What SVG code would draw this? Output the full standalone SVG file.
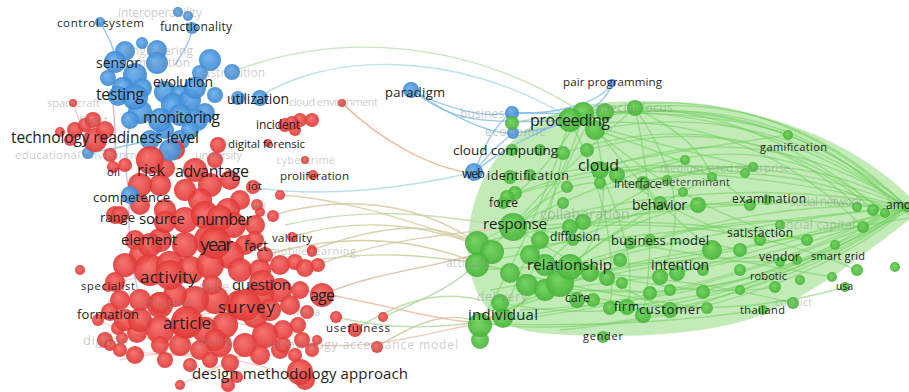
<svg xmlns="http://www.w3.org/2000/svg" width="909" height="392" viewBox="0 0 909 392">
<defs>
<radialGradient id="gR" fx="40%" fy="35%"><stop offset="0" stop-color="#f66a66"/><stop offset="1" stop-color="#e03936"/></radialGradient>
<radialGradient id="gB" fx="40%" fy="35%"><stop offset="0" stop-color="#6cb0ec"/><stop offset="1" stop-color="#3e8ad5"/></radialGradient>
<radialGradient id="gG" fx="40%" fy="35%"><stop offset="0" stop-color="#72d45e"/><stop offset="1" stop-color="#48b53a"/></radialGradient>
<style>
.r{fill:url(#gR);fill-opacity:.92}
.b{fill:url(#gB);fill-opacity:.92}
.g{fill:url(#gG);fill-opacity:.92}
.eg{fill:none;stroke:#72cf5e;stroke-opacity:.55;stroke-width:1.4}
.er{fill:none;stroke:#f2a39c;stroke-opacity:.6;stroke-width:1.2}
.ex{fill:none;stroke-width:1.4;stroke-opacity:.8}
.eb{fill:none;stroke:#84c0e6;stroke-width:1.4;stroke-opacity:.85}
text{font-family:"Open Sans","Liberation Sans",sans-serif;fill:#1e1e1e}
text.f{fill:#8a8a8a;fill-opacity:.45}
</style>
</defs>
<rect width="909" height="392" fill="#fff"/>
<g id="edges">
<path d="M468,245 C470,160 530,110 600,103 C700,93 830,118 909,196 L909,220 C850,265 800,305 740,322 C680,338 600,338 540,333 C495,328 468,300 468,245 Z" fill="#86d872" fill-opacity=".5"/>
<path class="eg" d="M583,113 Q760,70 907,207"/>
<path class="eg" d="M570,120 Q750,80 907,205"/>
<path class="eg" d="M635,108 Q790,90 907,207"/>
<path class="eg" d="M595,130 Q770,95 907,210"/>
<path class="eg" d="M563,153 Q740,95 885,213"/>
<path class="eg" d="M600,170 Q760,110 907,207"/>
<path class="eg" d="M617,175 Q780,120 873,210"/>
<path class="eg" d="M512,123 Q720,80 907,207"/>
<path class="eg" d="M587,150 Q760,105 857,207"/>
<path class="eg" d="M635,108 Q760,110 885,213"/>
<path class="eg" d="M583,113 Q720,110 788,135"/>
<path class="eg" d="M643,183 Q790,140 907,207"/>
<path class="eg" d="M507,197 Q720,130 907,207"/>
<path class="eg" d="M513,227 Q720,170 907,207"/>
<path class="eg" d="M477,243 Q720,190 907,207"/>
<path class="eg" d="M570,267 Q760,220 907,207"/>
<path class="eg" d="M560,283 Q760,250 907,207"/>
<path class="eg" d="M480,323 Q720,300 907,207"/>
<path class="eg" d="M503,318 Q740,290 885,213"/>
<path class="eg" d="M543,290 Q760,270 907,207"/>
<path class="eg" d="M610,308 Q800,290 907,207"/>
<path class="eg" d="M643,315 Q820,280 907,207"/>
<path class="eg" d="M490,250 Q700,230 873,210"/>
<path class="eg" d="M660,277 Q800,240 907,207"/>
<path class="eg" d="M527,283 Q740,320 907,207"/>
<path class="eg" d="M480,323 Q680,350 907,207"/>
<path class="eg" d="M500,303 Q700,340 885,213"/>
<path class="eg" d="M570,120 Q540,220 480,323"/>
<path class="eg" d="M583,113 Q560,200 513,227"/>
<path class="eg" d="M595,130 Q620,230 570,267"/>
<path class="eg" d="M635,108 Q660,220 643,315"/>
<path class="eg" d="M635,108 Q700,200 660,277"/>
<path class="eg" d="M583,113 Q650,200 712,250"/>
<path class="eg" d="M570,120 Q620,220 610,308"/>
<path class="eg" d="M595,130 Q720,170 750,205"/>
<path class="eg" d="M513,227 Q640,200 750,205"/>
<path class="eg" d="M570,267 Q660,230 740,250"/>
<path class="eg" d="M480,323 Q600,260 712,250"/>
<path class="eg" d="M513,227 Q600,280 670,310"/>
<path class="eg" d="M477,263 Q620,300 707,308"/>
<path class="eg" d="M563,153 Q540,260 527,283"/>
<path class="eg" d="M600,170 Q640,260 627,307"/>
<path class="eg" d="M617,175 Q700,230 760,240"/>
<path class="eg" d="M560,283 Q680,250 797,260"/>
<path class="eg" d="M570,267 Q700,300 775,287"/>
<path class="eg" d="M513,227 Q680,250 832,277"/>
<path class="eg" d="M480,323 Q620,330 763,310"/>
<path class="eg" d="M590,273 Q700,280 793,303"/>
<path class="eg" d="M477,243 Q600,180 685,160"/>
<path class="eg" d="M507,197 Q620,150 745,173"/>
<path class="eg" d="M513,227 Q560,180 600,183"/>
<path class="eg" d="M570,120 Q680,150 753,167"/>
<path class="eg" d="M635,108 Q700,140 712,177"/>
<path class="eg" d="M595,130 Q700,220 807,240"/>
<path class="eg" d="M560,283 Q700,200 863,227"/>
<path class="eg" d="M480,323 Q560,280 650,293"/>
<path class="eg" d="M477,263 Q560,250 660,203"/>
<path class="eg" d="M570,267 Q620,220 698,205"/>
<path class="eg" d="M583,113 Q540,180 503,203"/>
<path class="eg" d="M590,118 Q530,240 503,318"/>
<path class="eg" d="M600,170 Q760,170 907,207"/>
<path class="eg" d="M650,240 Q780,200 907,207"/>
<path class="eg" d="M700,292 Q820,260 907,207"/>
<path class="eg" d="M540,230 Q720,210 857,270"/>
<path class="eg" d="M527,283 Q700,330 845,287"/>
<path class="eg" d="M590,118 Q780,85 895,205"/>
<path class="eg" d="M605,112 Q800,100 909,215"/>
<path class="eg" d="M575,125 Q740,105 863,227"/>
<path class="eg" d="M540,240 Q720,180 909,212"/>
<path class="eg" d="M490,290 Q720,250 909,218"/>
<path class="eg" d="M520,310 Q760,300 909,210"/>
<path class="eg" d="M560,330 Q780,310 900,215"/>
<path class="eg" d="M600,190 Q760,150 880,205"/>
<path class="eg" d="M480,270 Q650,260 780,262"/>
<path class="eg" d="M500,230 Q650,210 807,240"/>
<path class="eg" d="M520,180 Q680,150 788,135"/>
<path class="eg" d="M490,250 Q560,170 635,108"/>
<path class="eg" d="M503,318 Q620,220 712,177"/>
<path class="eg" d="M545,265 Q650,160 753,167"/>
<path class="ex" stroke="#d9c39b" d="M273,215 C360,190 430,210 477,243"/>
<path class="ex" stroke="#d0c48f" d="M265,255 C350,230 420,240 477,263"/>
<path class="ex" stroke="#c9c890" d="M292,237 C360,215 430,225 490,250"/>
<path class="ex" stroke="#c2cf95" d="M305,262 C370,250 420,255 477,263"/>
<path class="ex" stroke="#d9b89a" d="M322,295 C380,270 430,270 490,250"/>
<path class="ex" stroke="#b9d49b" d="M355,330 C400,300 440,290 480,300"/>
<path class="ex" stroke="#c8c79a" d="M377,347 C420,320 450,310 480,323"/>
<path class="ex" stroke="#a9d69a" d="M383,317 C420,300 450,290 477,263"/>
<path class="ex" stroke="#d6c7a3" d="M318,265 C380,240 440,235 513,227"/>
<path class="ex" stroke="#e6b9a0" d="M300,290 C370,300 430,320 480,323"/>
<path class="ex" stroke="#d8c6a0" d="M280,195 C360,200 430,230 477,243"/>
<path class="ex" stroke="#b4d59b" d="M336,317 C390,330 440,330 503,318"/>
<path class="ex" stroke="#cfc9a0" d="M312,250 C380,225 430,220 477,243"/>
<path class="ex" stroke="#efbfa8" d="M310,345 C380,350 440,330 480,323"/>
<path class="ex" stroke="#bcd7a0" d="M285,225 C370,205 440,215 513,227"/>
<path class="ex" stroke="#a6d8e6" d="M253,187 C330,200 420,185 475,172"/>
<path class="ex" stroke="#e9a27f" d="M342,103 C380,140 430,168 472,173"/>
<path class="ex" stroke="#a9dcea" d="M258,98 C320,55 450,45 570,118"/>
<path class="ex" stroke="#b6e3a8" d="M232,72 C340,30 470,40 583,113"/>
<path class="eb" d="M415,92 C450,110 485,118 512,113"/>
<path class="eb" d="M415,92 C450,115 490,135 513,133"/>
<path class="eb" d="M415,92 C450,120 480,125 570,120"/>
<path class="eb" d="M475,172 C485,140 500,120 512,113"/>
<path class="eb" d="M475,172 C490,150 505,140 513,133"/>
<path class="eb" d="M612,83 C600,105 550,115 512,113"/>
<path class="eb" d="M612,83 C605,110 560,130 513,133"/>
<path class="eb" d="M475,172 C500,150 540,130 570,120"/>
<path class="eb" d="M512,113 C540,112 560,115 583,113"/>
<path class="eb" d="M100,22 C110,40 115,50 115,62"/>
<path class="eb" d="M192,28 C190,45 180,55 175,65"/>
<path class="ex" stroke="#b9b3e0" d="M135,97 Q120,160 130,195"/>
<path class="ex" stroke="#b9b3e0" d="M160,120 Q150,170 130,195"/>
<path class="eb" d="M88,153 Q110,150 150,140"/>
<path class="ex" stroke="#c9a0c8" d="M113,104 Q118,150 112,170"/>
<path class="ex" stroke="#b9b3e0" d="M130,195 Q125,240 140,300"/>
<path class="er" d="M95,315 Q150,300 200,300"/>
<path class="er" d="M108,287 Q150,270 190,270"/>
<path class="er" d="M98,320 Q140,340 200,350"/>
<path class="er" d="M110,312 Q160,330 240,305"/>
<path class="er" d="M120,350 Q200,360 260,355"/>
<path class="er" d="M73,103 Q85,140 95,140"/>
<path class="er" d="M98,320 Q120,280 160,240"/>
<path class="er" d="M120,360 Q200,340 300,380"/>
<path class="er" d="M180,385 Q230,360 300,330"/>
<path class="er" d="M108,287 Q200,320 280,330"/>
</g>
<g id="blue-bubbles">
<circle class="b" cx="178" cy="12" r="5"/><circle class="b" cx="188" cy="16" r="5"/>
<circle class="b" cx="142" cy="43" r="6"/><circle class="b" cx="125" cy="51" r="10"/><circle class="b" cx="157" cy="50" r="10"/>
<circle class="b" cx="157" cy="63" r="11"/><circle class="b" cx="210" cy="60" r="11"/><circle class="b" cx="200" cy="73" r="8"/>
<circle class="b" cx="232" cy="72" r="8"/><circle class="b" cx="135" cy="75" r="12"/><circle class="b" cx="123" cy="88" r="11"/>
<circle class="b" cx="142" cy="88" r="10"/><circle class="b" cx="118" cy="96" r="10"/><circle class="b" cx="165" cy="92" r="11"/>
<circle class="b" cx="180" cy="95" r="10"/><circle class="b" cx="173" cy="105" r="12"/><circle class="b" cx="190" cy="100" r="11"/>
<circle class="b" cx="205" cy="113" r="10"/><circle class="b" cx="197" cy="120" r="11"/><circle class="b" cx="140" cy="112" r="12"/>
<circle class="b" cx="180" cy="115" r="11"/><circle class="b" cx="165" cy="130" r="9"/><circle class="b" cx="150" cy="140" r="10"/>
<circle class="b" cx="180" cy="140" r="10"/><circle class="b" cx="190" cy="130" r="9"/><circle class="b" cx="130" cy="120" r="9"/>
<circle class="b" cx="238" cy="98" r="7"/><circle class="b" cx="88" cy="153" r="6"/><circle class="b" cx="512" cy="113" r="7"/>
<circle class="b" cx="513" cy="133" r="6"/><circle class="b" cx="108" cy="78" r="8"/><circle class="b" cx="215" cy="95" r="8"/>
</g>
<g id="red-bubbles">
<circle class="r" cx="75" cy="130" r="8"/><circle class="r" cx="70" cy="140" r="6"/><circle class="r" cx="95" cy="140" r="12"/>
<circle class="r" cx="105" cy="130" r="9"/><circle class="r" cx="110" cy="155" r="7"/><circle class="r" cx="125" cy="165" r="7"/>
<circle class="r" cx="165" cy="168" r="10"/><circle class="r" cx="175" cy="150" r="10"/><circle class="r" cx="215" cy="160" r="8"/>
<circle class="r" cx="218" cy="145" r="8"/><circle class="r" cx="210" cy="185" r="12"/><circle class="r" cx="230" cy="180" r="10"/>
<circle class="r" cx="240" cy="200" r="10"/><circle class="r" cx="228" cy="210" r="12"/><circle class="r" cx="200" cy="200" r="12"/>
<circle class="r" cx="185" cy="190" r="11"/><circle class="r" cx="160" cy="185" r="11"/><circle class="r" cx="140" cy="185" r="12"/>
<circle class="r" cx="140" cy="205" r="10"/><circle class="r" cx="115" cy="215" r="9"/><circle class="r" cx="165" cy="210" r="11"/>
<circle class="r" cx="185" cy="220" r="13"/><circle class="r" cx="205" cy="215" r="14"/><circle class="r" cx="233" cy="225" r="13"/>
<circle class="r" cx="255" cy="225" r="10"/><circle class="r" cx="265" cy="255" r="8"/><circle class="r" cx="245" cy="245" r="10"/>
<circle class="r" cx="230" cy="255" r="14"/><circle class="r" cx="210" cy="240" r="16"/><circle class="r" cx="185" cy="245" r="13"/>
<circle class="r" cx="160" cy="240" r="12"/><circle class="r" cx="135" cy="240" r="10"/><circle class="r" cx="140" cy="255" r="11"/>
<circle class="r" cx="125" cy="265" r="12"/><circle class="r" cx="115" cy="282" r="10"/><circle class="r" cx="150" cy="270" r="16"/>
<circle class="r" cx="170" cy="265" r="14"/><circle class="r" cx="190" cy="270" r="14"/><circle class="r" cx="210" cy="265" r="14"/>
<circle class="r" cx="240" cy="270" r="12"/><circle class="r" cx="260" cy="270" r="11"/><circle class="r" cx="280" cy="265" r="10"/>
<circle class="r" cx="295" cy="262" r="8"/><circle class="r" cx="305" cy="268" r="9"/><circle class="r" cx="318" cy="265" r="7"/>
<circle class="r" cx="280" cy="290" r="12"/><circle class="r" cx="260" cy="295" r="14"/><circle class="r" cx="240" cy="305" r="15"/>
<circle class="r" cx="215" cy="300" r="14"/><circle class="r" cx="195" cy="300" r="14"/><circle class="r" cx="175" cy="295" r="12"/>
<circle class="r" cx="160" cy="305" r="13"/><circle class="r" cx="140" cy="300" r="11"/><circle class="r" cx="120" cy="300" r="10"/>
<circle class="r" cx="98" cy="320" r="6"/><circle class="r" cx="118" cy="328" r="7"/><circle class="r" cx="137" cy="333" r="10"/>
<circle class="r" cx="125" cy="320" r="11"/><circle class="r" cx="140" cy="320" r="12"/><circle class="r" cx="160" cy="330" r="14"/>
<circle class="r" cx="185" cy="325" r="14"/><circle class="r" cx="205" cy="330" r="13"/><circle class="r" cx="225" cy="325" r="13"/>
<circle class="r" cx="255" cy="315" r="13"/><circle class="r" cx="270" cy="310" r="11"/><circle class="r" cx="290" cy="305" r="10"/>
<circle class="r" cx="300" cy="290" r="9"/><circle class="r" cx="298" cy="325" r="8"/><circle class="r" cx="283" cy="330" r="10"/>
<circle class="r" cx="265" cy="335" r="13"/><circle class="r" cx="245" cy="345" r="12"/><circle class="r" cx="220" cy="345" r="12"/>
<circle class="r" cx="200" cy="350" r="10"/><circle class="r" cx="180" cy="345" r="11"/><circle class="r" cx="160" cy="345" r="9"/>
<circle class="r" cx="120" cy="350" r="7"/><circle class="r" cx="105" cy="340" r="8"/><circle class="r" cx="135" cy="355" r="9"/>
<circle class="r" cx="165" cy="360" r="8"/><circle class="r" cx="190" cy="365" r="7"/><circle class="r" cx="210" cy="360" r="8"/>
<circle class="r" cx="230" cy="363" r="9"/><circle class="r" cx="260" cy="355" r="10"/><circle class="r" cx="280" cy="350" r="9"/>
<circle class="r" cx="295" cy="355" r="7"/><circle class="r" cx="302" cy="340" r="8"/><circle class="r" cx="312" cy="350" r="7"/>
<circle class="r" cx="305" cy="380" r="10"/><circle class="r" cx="180" cy="385" r="5"/><circle class="r" cx="228" cy="385" r="7"/>
<circle class="r" cx="237" cy="377" r="6"/><circle class="r" cx="377" cy="347" r="6"/><circle class="r" cx="383" cy="317" r="5"/>
<circle class="r" cx="336" cy="317" r="6"/><circle class="r" cx="317" cy="340" r="5"/><circle class="r" cx="280" cy="195" r="5"/>
<circle class="r" cx="285" cy="125" r="7"/><circle class="r" cx="300" cy="120" r="7"/><circle class="r" cx="312" cy="120" r="7"/>
<circle class="r" cx="295" cy="130" r="6"/><circle class="r" cx="260" cy="212" r="5"/><circle class="r" cx="273" cy="216" r="6"/>
<circle class="r" cx="312" cy="250" r="5"/><circle class="r" cx="122" cy="338" r="6"/><circle class="r" cx="80" cy="270" r="5"/>
<circle class="r" cx="85" cy="125" r="7"/><circle class="r" cx="60" cy="132" r="5"/>
</g>
<g id="green-bubbles">
<circle class="g" cx="512" cy="123" r="7"/><circle class="g" cx="583" cy="113" r="11"/><circle class="g" cx="595" cy="130" r="10"/>
<circle class="g" cx="563" cy="153" r="7"/><circle class="g" cx="587" cy="150" r="7"/><circle class="g" cx="617" cy="175" r="8"/>
<circle class="g" cx="530" cy="175" r="6"/><circle class="g" cx="567" cy="187" r="6"/><circle class="g" cx="515" cy="193" r="7"/>
<circle class="g" cx="563" cy="203" r="6"/><circle class="g" cx="600" cy="183" r="6"/><circle class="g" cx="683" cy="192" r="5"/>
<circle class="g" cx="685" cy="160" r="5"/><circle class="g" cx="712" cy="177" r="5"/><circle class="g" cx="745" cy="173" r="5"/>
<circle class="g" cx="753" cy="167" r="5"/><circle class="g" cx="698" cy="205" r="8"/><circle class="g" cx="767" cy="200" r="5"/>
<circle class="g" cx="857" cy="207" r="5"/><circle class="g" cx="873" cy="210" r="6"/><circle class="g" cx="885" cy="213" r="5"/>
<circle class="g" cx="507" cy="197" r="7"/><circle class="g" cx="477" cy="243" r="12"/><circle class="g" cx="492" cy="252" r="12"/>
<circle class="g" cx="477" cy="265" r="12"/><circle class="g" cx="510" cy="273" r="10"/><circle class="g" cx="527" cy="285" r="11"/>
<circle class="g" cx="545" cy="290" r="11"/><circle class="g" cx="560" cy="283" r="14"/><circle class="g" cx="583" cy="222" r="8"/>
<circle class="g" cx="570" cy="227" r="8"/><circle class="g" cx="590" cy="273" r="9"/><circle class="g" cx="607" cy="278" r="8"/>
<circle class="g" cx="622" cy="283" r="6"/><circle class="g" cx="593" cy="300" r="7"/><circle class="g" cx="627" cy="307" r="8"/>
<circle class="g" cx="670" cy="310" r="8"/><circle class="g" cx="707" cy="308" r="6"/><circle class="g" cx="650" cy="293" r="7"/>
<circle class="g" cx="670" cy="290" r="6"/><circle class="g" cx="703" cy="292" r="7"/><circle class="g" cx="677" cy="273" r="8"/>
<circle class="g" cx="703" cy="270" r="6"/><circle class="g" cx="650" cy="240" r="6"/><circle class="g" cx="712" cy="250" r="10"/>
<circle class="g" cx="630" cy="243" r="6"/><circle class="g" cx="760" cy="240" r="6"/><circle class="g" cx="807" cy="240" r="6"/>
<circle class="g" cx="797" cy="260" r="5"/><circle class="g" cx="800" cy="280" r="5"/><circle class="g" cx="857" cy="270" r="6"/>
<circle class="g" cx="895" cy="267" r="5"/><circle class="g" cx="793" cy="303" r="6"/><circle class="g" cx="863" cy="227" r="6"/>
<circle class="g" cx="503" cy="318" r="10"/><circle class="g" cx="500" cy="303" r="9"/><circle class="g" cx="540" cy="240" r="9"/>
<circle class="g" cx="545" cy="265" r="11"/><circle class="g" cx="620" cy="260" r="7"/><circle class="g" cx="740" cy="270" r="6"/>
<circle class="g" cx="780" cy="225" r="5"/><circle class="g" cx="835" cy="245" r="5"/><circle class="g" cx="740" cy="290" r="5"/>
<circle class="g" cx="480" cy="340" r="9"/><circle class="g" cx="512" cy="150" r="6"/><circle class="g" cx="605" cy="112" r="9"/>
<circle class="g" cx="530" cy="255" r="10"/>
</g>
<g id="nodes">
<g id="n-control-system"><circle class="b" cx="100" cy="22" r="5"/><text x="57" y="27" font-size="11.5" textLength="87">control system</text></g>
<g id="n-functionality"><circle class="b" cx="192" cy="28" r="6"/><text x="160" y="31" font-size="12" textLength="72">functionality</text></g>
<g id="n-interoperability"><text class="f" x="118" y="17" font-size="12" textLength="84">interoperability</text></g>
<g id="n-engineering"><text class="f" x="125" y="55" font-size="12" textLength="68">engineering</text></g>
<g id="n-simulation"><text class="f" x="130" y="67" font-size="12" textLength="60">simulation</text></g>
<g id="n-sensor"><circle class="b" cx="115" cy="62" r="11"/><text x="96" y="68" font-size="14" textLength="44">sensor</text></g>
<g id="n-evolution"><circle class="b" cx="195" cy="88" r="11"/><text x="153" y="87" font-size="14" textLength="60">evolution</text></g>
<g id="n-distribution"><text class="f" x="200" y="77" font-size="12" textLength="65">distribution</text></g>
<g id="n-testing"><circle class="b" cx="135" cy="97" r="13"/><text x="96" y="100" font-size="16" textLength="48">testing</text></g>
<g id="n-utilization"><circle class="b" cx="260" cy="98" r="8"/><text x="227" y="104" font-size="14" textLength="62">utilization</text></g>
<g id="n-monitoring"><circle class="b" cx="160" cy="120" r="12"/><text x="143" y="123" font-size="16" textLength="77">monitoring</text></g>
<g id="n-trl"><circle class="b" cx="170" cy="150" r="11"/><text x="11" y="143" font-size="15.5" textLength="188">technology readiness level</text></g>
<g id="n-educational-environment"><text class="f" x="15" y="159" font-size="11.5" textLength="140">educational environment</text></g>
<g id="n-university"><text class="f" x="195" y="159" font-size="11.5" textLength="47">university</text></g>
<g id="n-competence"><circle class="b" cx="130" cy="195" r="9"/><text x="93" y="202" font-size="13" textLength="77">competence</text></g>
<g id="n-paradigm"><circle class="b" cx="411" cy="90" r="8"/><text x="385" y="97" font-size="13" textLength="60">paradigm</text></g>
<g id="n-web"><circle class="b" cx="474" cy="172" r="9"/><text x="462" y="178" font-size="13" textLength="23">web</text></g>
<g id="n-pair-programming"><circle class="b" cx="612" cy="83" r="4"/><text x="563" y="86" font-size="11.5" textLength="99">pair programming</text></g>
<g id="n-spacecraft"><circle class="r" cx="73" cy="103" r="4"/><text class="f" x="47" y="107" font-size="11" textLength="53">spacecraft</text></g>
<g id="n-flight"><circle class="r" cx="93" cy="120" r="8"/><text class="f" x="79" y="124" font-size="11" textLength="29">flight</text></g>
<g id="n-cloud-environment"><circle class="r" cx="342" cy="103" r="4"/><text class="f" x="289" y="106" font-size="11" textLength="89">cloud environment</text></g>
<g id="n-incident"><circle class="r" cx="292" cy="123" r="7"/><text x="256" y="129" font-size="12" textLength="44">incident</text></g>
<g id="n-digital-forensic"><circle class="r" cx="268" cy="143" r="4"/><text x="228" y="148" font-size="11.5" textLength="77">digital forensic</text></g>
<g id="n-cybercrime"><circle class="r" cx="305" cy="160" r="4"/><text class="f" x="276" y="164" font-size="11" textLength="59">cybercrime</text></g>
<g id="n-proliferation"><circle class="r" cx="313" cy="175" r="5"/><text x="280" y="180" font-size="11.5" textLength="69">proliferation</text></g>
<g id="n-oil"><circle class="r" cx="113" cy="167" r="6"/><text x="107" y="176" font-size="11" textLength="13">oil</text></g>
<g id="n-risk"><circle class="r" cx="150" cy="160" r="14"/><text x="137" y="176" font-size="16" textLength="28">risk</text></g>
<g id="n-advantage"><circle class="r" cx="195" cy="170" r="12"/><text x="175" y="177" font-size="16" textLength="74">advantage</text></g>
<g id="n-iot"><circle class="r" cx="253" cy="187" r="7"/><text x="248" y="190" font-size="11" textLength="14">iot</text></g>
<g id="n-law"><circle class="r" cx="257" cy="205" r="6"/><text class="f" x="248" y="208" font-size="11" textLength="18">law</text></g>
<g id="n-range"><circle class="r" cx="120" cy="215" r="9"/><text x="100" y="222" font-size="13" textLength="35">range</text></g>
<g id="n-source"><circle class="r" cx="165" cy="222" r="11"/><text x="139" y="224" font-size="15" textLength="46">source</text></g>
<g id="n-number"><circle class="r" cx="220" cy="218" r="13"/><text x="196" y="225" font-size="16" textLength="56">number</text></g>
<g id="n-element"><circle class="r" cx="150" cy="245" r="12"/><text x="121" y="245" font-size="15" textLength="56">element</text></g>
<g id="n-year"><circle class="r" cx="215" cy="243" r="16"/><text x="200" y="251" font-size="19" textLength="33">year</text></g>
<g id="n-fact"><circle class="r" cx="255" cy="240" r="9"/><text x="244" y="251" font-size="14" textLength="24">fact</text></g>
<g id="n-validity"><circle class="r" cx="292" cy="237" r="5"/><text x="272" y="242" font-size="11.5" textLength="40">validity</text></g>
<g id="n-mobile-learning"><circle class="r" cx="312" cy="252" r="5"/><text class="f" x="270" y="255" font-size="11" textLength="86">mobile learning</text></g>
<g id="n-activity"><circle class="r" cx="170" cy="275" r="15"/><text x="140" y="283" font-size="17" textLength="57">activity</text></g>
<g id="n-specialist"><circle class="r" cx="108" cy="287" r="5"/><text x="81" y="290" font-size="11" textLength="54">specialist</text></g>
<g id="n-place"><circle class="r" cx="212" cy="285" r="10"/><text class="f" x="199" y="291" font-size="13" textLength="30">place</text></g>
<g id="n-question"><circle class="r" cx="262" cy="283" r="13"/><text x="232" y="290" font-size="15" textLength="59">question</text></g>
<g id="n-age"><circle class="r" cx="322" cy="295" r="12"/><text x="310" y="301" font-size="16" textLength="25">age</text></g>
<g id="n-situation"><circle class="r" cx="160" cy="303" r="11"/><text class="f" x="138" y="307" font-size="12" textLength="54">situation</text></g>
<g id="n-survey"><circle class="r" cx="245" cy="305" r="16"/><text x="218" y="313" font-size="17" textLength="57">survey</text></g>
<g id="n-india"><circle class="r" cx="307" cy="312" r="7"/><text class="f" x="293" y="316" font-size="11" textLength="27">india</text></g>
<g id="n-formation"><circle class="r" cx="110" cy="312" r="9"/><text x="77" y="319" font-size="13" textLength="62">formation</text></g>
<g id="n-article"><circle class="r" cx="187" cy="322" r="16"/><text x="163" y="329" font-size="17" textLength="48">article</text></g>
<g id="n-usefulness"><circle class="r" cx="355" cy="330" r="7"/><text x="326" y="332" font-size="11.5" textLength="64">usefulness</text></g>
<g id="n-society"><circle class="r" cx="215" cy="340" r="11"/><text class="f" x="195" y="346" font-size="12" textLength="40">society</text></g>
<g id="n-tam"><circle class="r" cx="283" cy="345" r="8"/><text class="f" x="268" y="349" font-size="12" textLength="190">technology acceptance model</text></g>
<g id="n-digital"><circle class="r" cx="110" cy="345" r="6"/><text class="f" x="83" y="345" font-size="13" textLength="40">digital</text></g>
<g id="n-dma"><circle class="r" cx="300" cy="372" r="13"/><text x="192" y="379" font-size="15" textLength="216">design methodology approach</text></g>
<g id="n-business"><text class="f" x="460" y="118" font-size="12" textLength="50">business</text></g>
<g id="n-economic"><text class="f" x="485" y="136" font-size="12" textLength="60">economic</text></g>
<g id="n-cloud-computing"><circle class="g" cx="540" cy="150" r="6"/><text x="453" y="155" font-size="13.5" textLength="105">cloud computing</text></g>
<g id="n-identification"><circle class="g" cx="510" cy="177" r="7"/><text x="487" y="180" font-size="12.5" textLength="82">identification</text></g>
<g id="n-proceeding"><circle class="g" cx="570" cy="120" r="12"/><text x="530" y="126" font-size="16" textLength="80">proceeding</text></g>
<g id="n-special-focus"><circle class="g" cx="635" cy="108" r="8"/><text class="f" x="596" y="112" font-size="12" textLength="77">special focus</text></g>
<g id="n-cloud"><circle class="g" cx="600" cy="170" r="9"/><text x="578" y="171" font-size="16" textLength="41">cloud</text></g>
<g id="n-interface"><circle class="g" cx="643" cy="183" r="7"/><text x="614" y="188" font-size="13" textLength="48" style="fill:#3a3a3a">interface</text></g>
<g id="n-determinant"><circle class="g" cx="667" cy="180" r="5"/><text x="662" y="186" font-size="11" textLength="68" style="fill:#444">determinant</text></g>
<g id="n-mse"><text class="f" x="660" y="172" font-size="11" textLength="130">medium sized enterprise</text></g>
<g id="n-gamification"><circle class="g" cx="788" cy="135" r="5"/><text x="760" y="151" font-size="11" textLength="67">gamification</text></g>
<g id="n-force"><circle class="g" cx="503" cy="203" r="6"/><text x="489" y="207" font-size="12" textLength="29">force</text></g>
<g id="n-behavior"><circle class="g" cx="660" cy="203" r="7"/><text x="632" y="210" font-size="14" textLength="55">behavior</text></g>
<g id="n-examination"><circle class="g" cx="750" cy="205" r="6"/><text x="732" y="203" font-size="12" textLength="74">examination</text></g>
<g id="n-social-network"><text class="f" x="790" y="206" font-size="12" textLength="72">social network</text></g>
<g id="n-among"><circle class="g" cx="907" cy="207" r="5"/><text x="886" y="209" font-size="12">among</text></g>
<g id="n-response"><circle class="g" cx="513" cy="227" r="14"/><text x="483" y="229" font-size="15" textLength="64">response</text></g>
<g id="n-collaboration"><text class="f" x="540" y="219" font-size="15" textLength="90">collaboration</text></g>
<g id="n-diffusion"><circle class="g" cx="573" cy="240" r="6"/><text x="550" y="241" font-size="12" textLength="50">diffusion</text></g>
<g id="n-business-model"><text x="611" y="245" font-size="13" textLength="98">business model</text></g>
<g id="n-satisfaction"><circle class="g" cx="740" cy="250" r="7"/><text x="727" y="237" font-size="12" textLength="66">satisfaction</text></g>
<g id="n-social-capital"><text class="f" x="780" y="229" font-size="12" textLength="75">social capital</text></g>
<g id="n-attitude"><text class="f" x="446" y="267" font-size="12" textLength="45">attitude</text></g>
<g id="n-relationship"><circle class="g" cx="570" cy="267" r="13"/><text x="527" y="270" font-size="15" textLength="85">relationship</text></g>
<g id="n-intention"><circle class="g" cx="660" cy="277" r="8"/><text x="651" y="270" font-size="14" textLength="58">intention</text></g>
<g id="n-vendor"><circle class="g" cx="780" cy="262" r="5"/><text x="759" y="261" font-size="12" textLength="41">vendor</text></g>
<g id="n-smart-grid"><circle class="g" cx="832" cy="277" r="5"/><text x="811" y="260" font-size="11" textLength="54">smart grid</text></g>
<g id="n-robotic"><circle class="g" cx="775" cy="287" r="6"/><text x="750" y="280" font-size="11" textLength="37">robotic</text></g>
<g id="n-usa"><circle class="g" cx="845" cy="287" r="5"/><text x="836" y="290" font-size="10" textLength="17">usa</text></g>
<g id="n-conflict"><text class="f" x="775" y="306" font-size="11" textLength="37">conflict</text></g>
<g id="n-delivery"><text class="f" x="477" y="301" font-size="12" textLength="50">delivery</text></g>
<g id="n-individual"><circle class="g" cx="480" cy="325" r="12"/><text x="468" y="320" font-size="15" textLength="70">individual</text></g>
<g id="n-care"><circle class="g" cx="577" cy="300" r="8"/><text x="565" y="302" font-size="12" textLength="25">care</text></g>
<g id="n-firm"><circle class="g" cx="610" cy="308" r="7"/><text x="614" y="311" font-size="12" textLength="25">firm</text></g>
<g id="n-customer"><circle class="g" cx="643" cy="315" r="8"/><text x="639" y="314" font-size="13" textLength="62">customer</text></g>
<g id="n-thailand"><circle class="g" cx="763" cy="310" r="5"/><text x="740" y="314" font-size="11" textLength="45">thailand</text></g>
<g id="n-gender"><circle class="g" cx="603" cy="337" r="6"/><text x="583" y="340" font-size="11" textLength="40">gender</text></g>
</g>
</svg>
